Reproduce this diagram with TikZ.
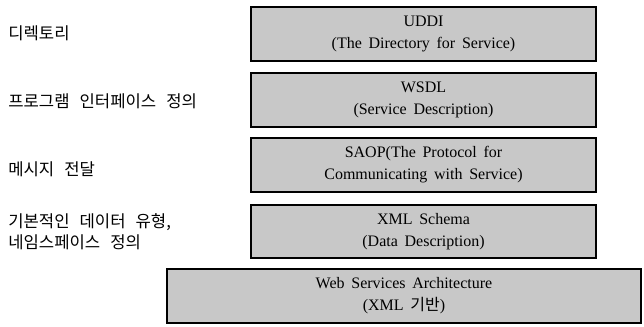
\documentclass[tikz,border=0pt]{standalone}
\usepackage{fontspec}
\setmainfont{Liberation Serif}
\newfontfamily\kr{Noto Sans CJK KR}
\usetikzlibrary{shadows}
\newcommand\engfont{\fontsize{12}{16.5}\selectfont\spaceskip 0.42em plus 0.1em\relax}
\newcommand\krfont{\kr\fontsize{12.5}{16}\selectfont\spaceskip 0.6em plus 0.1em\relax}
\tikzset{
  layer/.style={draw=black, line width=0.8pt, fill=boxgray, align=center,
    font=\engfont, inner sep=0pt,
    drop shadow={shadow xshift=1pt, shadow yshift=-1pt, fill=black!75, opacity=1}},
  lbl/.style={anchor=west, align=left, font=\krfont, inner sep=0pt}
}
\definecolor{boxgray}{RGB}{200,200,200}
\begin{document}
\begin{tikzpicture}[x=0.75pt,y=-0.75pt]
\useasboundingbox (0,0) rectangle (644,327);
\node[layer, minimum width=345*0.75pt, minimum height=54*0.75pt] (uddi) at (423.5,34) {UDDI\\(The Directory for Service)};
\node[layer, minimum width=345*0.75pt, minimum height=54*0.75pt] (wsdl) at (423.5,100) {WSDL\\(Service Description)};
\node[layer, minimum width=345*0.75pt, minimum height=54*0.75pt] (soap) at (423.5,165) {SAOP(The Protocol for\\Communicating with Service)};
\node[layer, minimum width=345*0.75pt, minimum height=53*0.75pt] (xml) at (423.5,231.5) {XML Schema\\(Data Description)};
\node[layer, minimum width=474*0.75pt, minimum height=54*0.75pt] (wsa) at (404,296) {Web Services Architecture\\(XML {\kr 기반})};
\node[lbl] (l1) at (8,33) {디렉토리};
\node[lbl] (l2) at (8,101) {프로그램 인터페이스 정의};
\node[lbl] (l3) at (8,169) {메시지 전달};
\node[lbl] (l4) at (8,232) {기본적인 데이터 유형,\\네임스페이스 정의};
\end{tikzpicture}
\end{document}
